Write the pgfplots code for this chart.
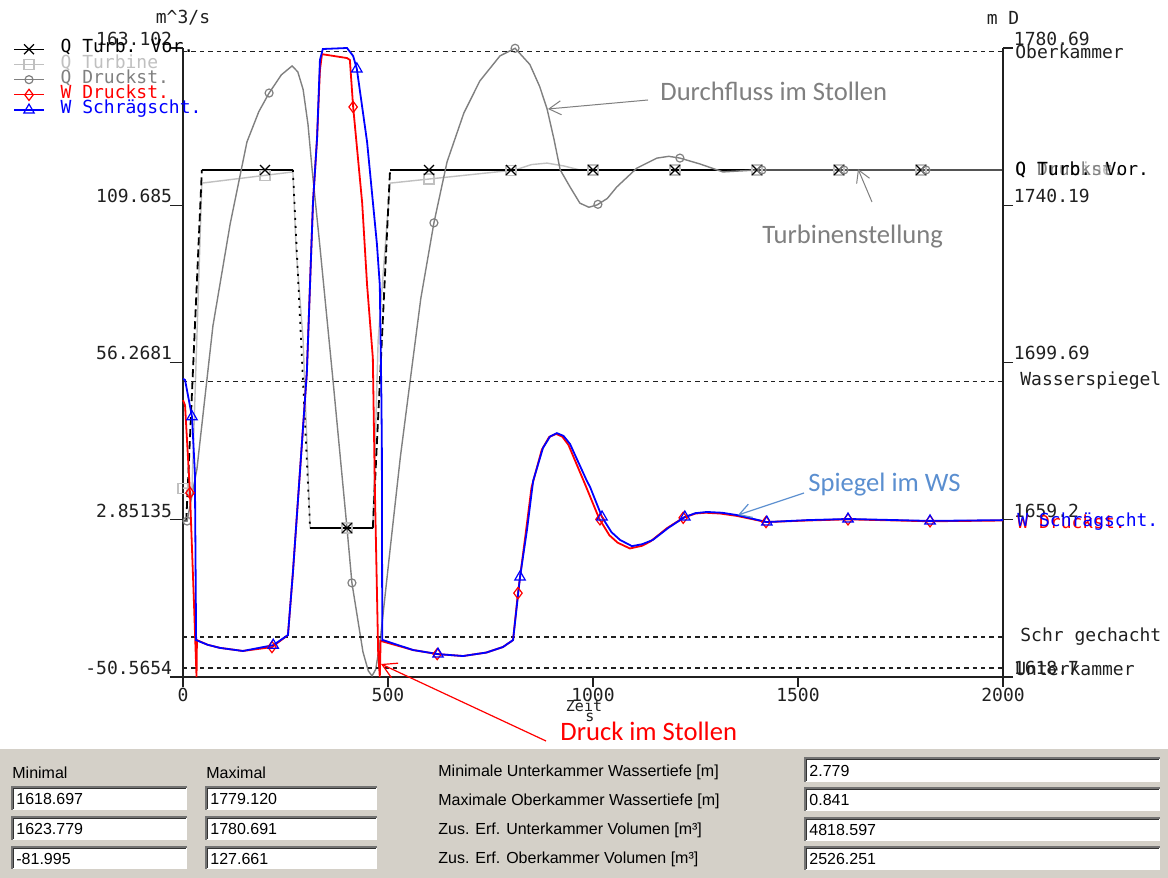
\documentclass[border=0pt]{standalone}
\usepackage{fontspec}
\setmainfont{Liberation Sans}
\newfontfamily\monof{DejaVu Sans Mono}
\newfontfamily\calib{Carlito}
\usepackage{pgfplots}
\pgfplotsset{compat=1.18}
\usetikzlibrary{arrows.meta}
\definecolor{qlight}{HTML}{C0C0C0}
\definecolor{qgray}{HTML}{808080}
\definecolor{panel}{HTML}{D4D0C8}
\definecolor{annog}{HTML}{7F7F7F}
\definecolor{annob}{HTML}{5B8FD0}
\definecolor{axcol}{HTML}{202020}
\pgfplotsset{
  base/.style={
    at={(91.5pt,100.5pt)}, anchor=south west,
    scale only axis, width=410pt, height=314.5pt,
    xmin=0, xmax=2000, clip=false,
    axis line style={axcol, line width=0.6pt},
    tick align=outside,
    tick style={axcol, line width=0.6pt},
    ticklabel style={font=\monof\fontsize{9}{10}\selectfont, text=axcol},
  },
  legend image code/.code={\draw[mark repeat=2,mark phase=2,#1] plot coordinates {(0pt,0pt) (7.5pt,0pt) (15pt,0pt)};},
}
\begin{document}
\begin{tikzpicture}
\useasboundingbox (0,0) rectangle (584pt,439pt);
\fill[white] (0,0) rectangle (584pt,439pt);

% ---------------- left axis: flows (m^3/s)
\begin{axis}[base,
  ymin=-50.5654, ymax=163.102,
  axis x line*=bottom, axis y line*=left,
  xtick={0,500,1000,1500,2000}, xticklabels={0,500,1000,1500,2000},
  xtick style={/pgfplots/major tick length=5pt},
  ytick={-50.5654,2.85135,56.2681,109.685,163.102},
  yticklabels={-50.5654,2.85135,56.2681,109.685,163.102},
  ytick style={/pgfplots/major tick length=6.5pt},
  yticklabel style={anchor=south east, inner sep=1pt},
  xticklabel style={inner sep=1pt},
  legend style={at={(axis description cs:-0.2073,1.0096)}, anchor=north west,
    draw=none, fill=none, inner sep=0pt, row sep=0.7pt, column sep=8pt,
    font=\monof\fontsize{9}{10}\selectfont,
    nodes={inner sep=0pt, text height=5.3pt, text depth=1.6pt}},
  legend cell align=left,
]
\addlegendimage{black, line width=0.6pt, mark=x, mark size=3.5pt}
\addlegendentry[text=black]{Q Turb. Vor.}
\addlegendimage{qlight, line width=0.6pt, mark=square, mark size=2.5pt}
\addlegendentry[text=qlight]{Q Turbine}
\addlegendimage{qgray, line width=0.6pt, mark=o, mark size=2pt}
\addlegendentry[text=qgray]{Q Druckst.}
\addlegendimage{red, line width=0.6pt, mark=diamond, mark size=2.8pt}
\addlegendentry[text=red]{W Druckst.}
\addlegendimage{blue, line width=0.6pt, mark=triangle, mark size=3pt}
\addlegendentry[text=blue]{W Schrägscht.}

% Q Turbine
\addplot[qlight, line width=0.7pt, forget plot] coordinates {
(0,13.6) (22,13.6) (46,117.2) (268,121.0) (276,94.5) (293,63.9) (310,0.05)
(463,0.05) (476,63.9) (505,117.2) (810,121.66) (850,123.5) (888,124.0) (930,123.0) (968,121.66) (2000,121.66)};
% Q Turb. Vor.
\addplot[black, line width=0.6pt, forget plot] coordinates {(0,2.4) (8,2.4)};
\addplot[black, line width=0.6pt, forget plot] coordinates {(46,121.66) (268,121.66)};
\addplot[black, line width=0.6pt, forget plot] coordinates {(310,0.05) (463,0.05)};
\addplot[black, line width=0.6pt, forget plot] coordinates {(505,121.66) (2000,121.66)};
\addplot[black, line width=0.9pt, dash pattern=on 4pt off 2pt, forget plot] coordinates {(8,2.4) (46,121.66)};
\addplot[black, line width=0.9pt, dash pattern=on 1pt off 3pt, forget plot] coordinates {(268,121.66) (310,0.05)};
\addplot[black, line width=0.9pt, dash pattern=on 4pt off 2pt, forget plot] coordinates {(463,0.05) (505,121.66)};
% Q Druckst.
\addplot[qgray, line width=0.7pt, forget plot] coordinates {
(0,2.4) (10,2.4) (34,20.1) (73,68.7) (115,103.3) (156,131.2) (185,141.5) (210,147.8) (240,154) (266,157)
(280,155) (293,149) (305,137) (315,121.7) (333,97) (366,50) (400,0) (412,-18.6) (439,-42.1)
(452,-48.5) (461,-50.2) (470,-48) (480,-39.4) (505,-7.4) (530,24) (554,50) (580,78) (612,103.7)
(644,124.4) (685,141) (724,151.9) (773,160.4) (810,163) (846,157.5) (870,150) (888,142.4)
(905,132) (920,121.7) (944,115.9) (968,110.4) (990,109) (1010,109.8) (1035,112) (1058,115.9)
(1107,122.3) (1156,125.7) (1185,126.3) (1212,125.7) (1261,123.7) (1317,121.0) (1400,121.66) (2000,121.66)};
% markers
\addplot[qlight, only marks, mark=square, mark size=2.5pt, line width=0.6pt, forget plot] coordinates {
(0,13.6) (200,119.8) (400,0.05) (600,118.6) (800,121.6) (1000,121.66) (1200,121.66) (1400,121.66) (1600,121.66) (1800,121.66)};
\addplot[black, only marks, mark=x, mark size=3.5pt, line width=0.6pt, forget plot] coordinates {
(200,121.66) (400,0.05) (600,121.66) (800,121.66) (1000,121.66) (1200,121.66) (1400,121.66) (1600,121.66) (1800,121.66)};
\addplot[qgray, only marks, mark=o, mark size=2pt, line width=0.6pt, forget plot] coordinates {
(10,2.4) (210,147.8) (412,-18.6) (612,103.7) (810,163.0) (1012,110.0) (1212,125.7) (1412,121.66) (1612,121.66) (1812,121.66)};
\end{axis}

% ---------------- right axis: water levels (m)
\begin{axis}[base,
  ymin=1618.7, ymax=1780.69,
  axis x line=none, axis y line*=right,
  ytick={1618.7,1659.2,1699.69,1740.19,1780.69},
  yticklabels={1618.7,1659.2,1699.69,1740.19,1780.69},
  ytick style={/pgfplots/major tick length=5pt},
  yticklabel style={anchor=south west, inner sep=1pt},
]
% reference levels
\addplot[axcol, line width=0.6pt, dash pattern=on 2.2pt off 2pt] coordinates {(0,1779.85) (2000,1779.85)};
\addplot[axcol, line width=0.6pt, dash pattern=on 2.2pt off 2pt] coordinates {(0,1694.9) (2000,1694.9)};
\addplot[axcol, line width=0.6pt, dash pattern=on 2.2pt off 2pt] coordinates {(0,1629.0) (2000,1629.0)};
\addplot[axcol, line width=0.6pt, dash pattern=on 2.2pt off 2pt] coordinates {(0,1621.0) (2000,1621.0)};
% W Druckst.
\addplot[red, line width=0.9pt] coordinates {
(0,1690) (5,1688.7) (17,1666.1) (26,1640) (33,1618.7) (34,1628.2) (60,1627.0) (90,1626.2) (146,1625.4)
(217,1626.4) (256,1629.5) (268,1645.5) (285,1671.2) (302,1697.0) (317,1740.8) (327,1757.5)
(334,1775) (339,1779.1) (400,1778.1) (407,1777.6) (415,1765.5) (437,1740.8) (449,1719.65)
(463,1700.9) (468,1667.1) (476,1625.1) (480,1618.7) (482,1628.0) (561,1625.65) (620,1624.6)
(683,1624.1) (740,1625.0) (780,1626.4) (805,1628.2) (817,1640.3) (835,1655) (850,1667.5) (875,1677.2) (893,1680.5) (910,1681.3)
(925,1680.6) (940,1678.5) (980,1668.5) (1015,1659.5) (1040,1655.2) (1060,1653.3) (1090,1651.8)
(1120,1652.5) (1140,1653.6) (1180,1657) (1220,1659.7) (1250,1660.8) (1275,1661.0) (1310,1660.8)
(1350,1660.2) (1422,1658.6) (1522,1659.0) (1622,1659.3) (1822,1658.8) (2000,1659.0)};
% W Schraegscht.
\addplot[blue, line width=0.9pt] coordinates {
(0,1695.5) (5,1695.2) (22,1685.7) (29,1671.2) (32,1628.2) (60,1627.0) (90,1626.2) (146,1625.4)
(220,1626.9) (256,1629.5) (268,1645.5) (285,1671.2) (302,1697.0) (317,1740.8) (327,1757.5)
(334,1777.6) (341,1780.43) (400,1780.69) (415,1778.63) (424,1775.3) (449,1756.5) (473,1730.2)
(480,1719.65) (484,1690) (485,1677.7) (486,1628.2) (488,1628.2) (561,1625.65) (622,1624.6)
(683,1624.1) (740,1625.0) (780,1626.4) (805,1628.2) (822,1644.45) (839,1656.6) (854,1669.2) (878,1677.7) (895,1680.6) (912,1681.5)
(928,1680.8) (944,1678.7) (985,1669.2) (993,1667.6) (1022,1659.9) (1045,1656) (1066,1654.0)
(1095,1652.4) (1120,1652.9) (1146,1654.0) (1185,1657.2) (1224,1659.9) (1250,1660.9) (1278,1661.2)
(1315,1661.0) (1351,1660.4) (1424,1658.6) (1522,1659.1) (1622,1659.4) (1822,1658.9) (2000,1659.1)};
\addplot[red, only marks, mark=diamond, mark size=2.8pt, line width=0.6pt] coordinates {
(17,1666.1) (217,1626.4) (415,1765.5) (620,1624.6) (817,1640.3) (1017,1659.3) (1220,1659.7) (1422,1658.6) (1622,1659.3) (1822,1658.8)};
\addplot[blue, only marks, mark=triangle, mark size=3pt, line width=0.6pt] coordinates {
(22,1685.7) (220,1626.9) (424,1775.3) (622,1624.6) (822,1644.45) (1022,1659.9) (1224,1659.9) (1424,1658.6) (1622,1659.4) (1822,1658.9)};
\end{axis}

% ---------------- texts, annotations and panel (pixel grid)
\begin{scope}[shift={(0pt,439pt)}, x=0.5pt, y=-0.5pt]
\tikzset{mono/.style={font=\monof\fontsize{9}{10}\selectfont, inner sep=0pt}}
\node[mono, text=axcol] at (183,18) {m\textasciicircum 3/s};
\node[mono, text=axcol] at (1003,18) {m D};
\node[mono, text=axcol, font=\monof\fontsize{7.5}{8}\selectfont] at (584,706) {Zeit};
\node[mono, text=axcol, font=\monof\fontsize{7.5}{8}\selectfont] at (590,717) {s};
\node[mono, text=axcol, anchor=west] at (1015,52) {Oberkammer};
\node[mono, text=axcol, anchor=west] at (1020,381) {Wasserspiegel};
\node[mono, text=axcol, anchor=west] at (1020,637) {Schr gechacht};
\node[mono, text=axcol, anchor=west] at (1015,669) {Unterkammer};
\node[mono, text=qlight, anchor=west] at (1015,170) {Q Turbine};
\node[mono, text=qgray, anchor=west] at (1015,170) {Q Druckst.};
\node[mono, text=black, anchor=west] at (1015,170) {Q Turb. Vor.};
\node[mono, text=red, anchor=west] at (1017,522) {W Druckst.};
\node[mono, text=blue, anchor=west] at (1017,522) {W Schrägscht.};
% annotations
\node[anchor=west, inner sep=0pt, text=annog, font=\calib\fontsize{13.3}{15}\selectfont] at (660,91) {Durchfluss im Stollen};
\draw[annog, line width=0.5pt, -{Straight Barb[length=6pt,width=7pt]}] (648,100) -- (548,109);
\node[anchor=west, inner sep=0pt, text=annog, font=\calib\fontsize{13.3}{15}\selectfont] at (762,237) {Turbinenstellung};
\draw[annog, line width=0.5pt, -{Straight Barb[length=6pt,width=7pt]}] (872,202) -- (858,169);
\node[anchor=west, inner sep=0pt, text=annob, font=\calib\fontsize{13.3}{15}\selectfont] at (808,485) {Spiegel im WS};
\draw[annob, line width=0.6pt, -{Straight Barb[length=6pt,width=7pt]}] (804,493) -- (738,515);
\node[anchor=west, inner sep=0pt, text=red, font=\calib\fontsize{13.3}{15}\selectfont] at (560,731) {Druck im Stollen};
\draw[red, line width=0.6pt, -{Straight Barb[length=7pt,width=8pt]}] (546,741) -- (381,664);
% panel
\fill[panel] (0,748) rectangle (1168,878);
\draw[white, line width=0.5pt] (0,749) -- (1168,749);
\tikzset{plab/.style={anchor=west, inner sep=0pt, font=\fontsize{8}{9}\selectfont}}
\newcommand\tbox[5]{%
  \fill[white] (#1,#2) rectangle (#3,#4);
  \draw[black!55, line width=0.8pt] (#1,#4) -- (#1,#2) -- (#3,#2);
  \draw[black!80, line width=0.5pt] ({#1+1.5},{#4-1}) -- ({#1+1.5},{#2+1.5}) -- ({#3-1},{#2+1.5});
  \node[plab] at ({#1+4},{(#2+#4)/2+0.5}) {#5};}
\node[plab] at (12,773) {Minimal};
\node[plab] at (206,773) {Maximal};
\tbox{12}{787}{187}{810}{1618.697}
\tbox{12}{817}{187}{840}{1623.779}
\tbox{12}{847}{187}{869}{-81.995}
\tbox{206}{787}{377}{810}{1779.120}
\tbox{206}{817}{377}{840}{1780.691}
\tbox{206}{847}{377}{869}{127.661}
\node[plab] at (438,772) {Minimale Unterkammer Wassertiefe [m]};
\node[plab] at (438,801) {Maximale Oberkammer Wassertiefe [m]};
\node[plab] at (438,830) {Zus. Erf. Unterkammer Volumen [m³]};
\node[plab] at (438,859) {Zus. Erf. Oberkammer Volumen [m³]};
\tbox{805}{758}{1160}{782}{2.779}
\tbox{805}{788}{1160}{811}{0.841}
\tbox{805}{818}{1160}{841}{4818.597}
\tbox{805}{847}{1160}{870}{2526.251}
\end{scope}
\end{tikzpicture}
\end{document}
